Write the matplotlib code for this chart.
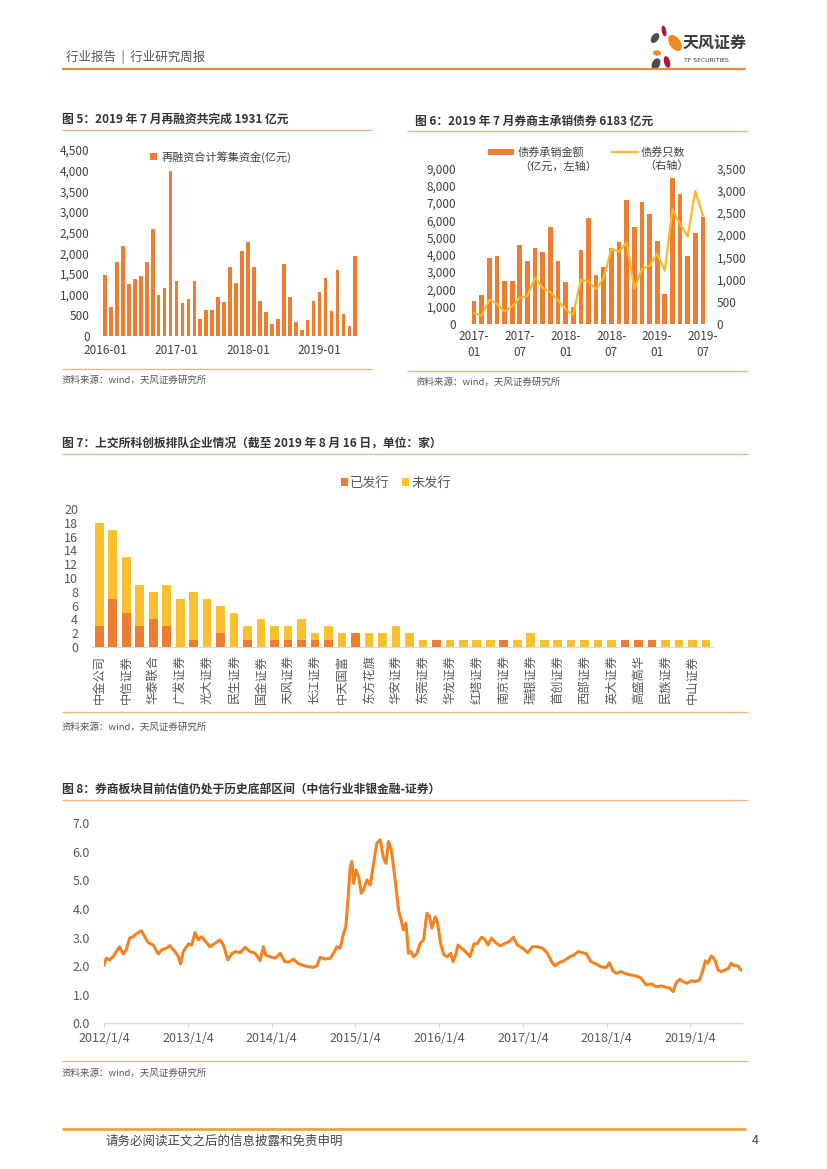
import matplotlib
matplotlib.use('Agg')
import matplotlib.pyplot as plt
from matplotlib.patches import Ellipse, Rectangle
import numpy as np
import pandas as pd

plt.rcParams['font.family'] = ['Noto Sans CJK SC', 'DejaVu Sans']

# ---------------- data ----------------
# Fig 5: monthly refinancing (亿元), 2016-01 .. 2019-07
refi_months = pd.period_range('2016-01', '2019-07', freq='M').strftime('%Y-%m').tolist()
refi_values = [1480, 700, 1790, 2180, 1260, 1380, 1460, 1800, 2590, 990, 1150, 4000,
               1320, 790, 900, 1320, 410, 630, 630, 940, 820, 1670, 1280, 2050,
               2280, 1660, 850, 590, 290, 420, 1740, 950, 340, 150, 390, 850,
               1070, 1410, 610, 1600, 530, 240, 1931]
refi_ticklabels = ['2016-01', '2017-01', '2018-01', '2019-01']

# Fig 6: bond underwriting 2017-01 .. 2019-07
bond_months = pd.period_range('2017-01', '2019-07', freq='M').strftime('%Y-%m').tolist()
bond_amount = [1330, 1660, 3840, 3940, 2500, 2480, 4580, 3650, 4400, 4150, 5590, 3650,
               2420, 955, 4290, 6160, 2810, 3290, 4380, 4720, 7150, 5630, 7080, 6340,
               4780, 1750, 8420, 7520, 3960, 5240, 6183]
bond_count = [250, 190, 545, 455, 280, 400, 590, 630, 1050, 810, 720, 530,
              325, 210, 1000, 950, 780, 1040, 1690, 1630, 1830, 795, 1235, 1310,
              1580, 1200, 2575, 2250, 1970, 2990, 2440]
bond_ticklabels = ['2017-\n01', '2017-\n07', '2018-\n01', '2018-\n07', '2019-\n01', '2019-\n07']

# Fig 7: STAR market queue by sponsor
brokers = ['中金公司', '中信建投', '中信证券', '海通证券', '华泰联合', '招商证券', '广发证券', '国泰君安',
           '光大证券', '安信证券', '民生证券', '申万宏源', '国金证券', '国信证券', '天风证券', '东兴证券',
           '长江证券', '兴业证券', '中天国富', '平安证券', '东方花旗', '国元证券', '华安证券', '中原证券',
           '东莞证券', '财通证券', '华龙证券', '九州证券', '红塔证券', '长城证券', '南京证券', '德邦证券',
           '瑞银证券', '太平洋证券', '首创证券', '五矿证券', '西部证券', '浙商证券', '英大证券', '渤海证券',
           '高盛高华', '川财证券', '民族证券', '华西证券', '中山证券', '新时代证券']
issued = [3, 7, 5, 3, 4, 3, 0, 1, 0, 2, 0, 1, 0, 1, 1, 1, 1, 1, 0, 2, 0, 0, 0, 0,
          0, 1, 0, 0, 0, 0, 1, 0, 0, 0, 0, 0, 0, 0, 0, 1, 1, 1, 0, 0, 0, 0]
unissued = [15, 10, 8, 6, 4, 6, 7, 7, 7, 4, 5, 2, 4, 2, 2, 3, 1, 2, 2, 0, 2, 2, 3, 2,
            1, 0, 1, 1, 1, 1, 0, 1, 2, 1, 1, 1, 1, 1, 1, 0, 0, 0, 1, 1, 1, 1]

# Fig 8: broker sector P/B
pb_dates = ['2012-01-04', '2012-01-14', '2012-01-29', '2012-02-12', '2012-02-26', '2012-03-12', '2012-03-27',
            '2012-04-10', '2012-04-25', '2012-05-10', '2012-05-24', '2012-06-15', '2012-06-30', '2012-07-15',
            '2012-08-06', '2012-08-28', '2012-09-11', '2012-10-03', '2012-10-17', '2012-11-08', '2012-11-23',
            '2012-12-03', '2012-12-15', '2013-01-06', '2013-01-21', '2013-02-04', '2013-02-19', '2013-03-05',
            '2013-03-20', '2013-04-10', '2013-05-02', '2013-05-24', '2013-06-08', '2013-06-27', '2013-07-14',
            '2013-07-29', '2013-08-20', '2013-09-10', '2013-10-02', '2013-10-24', '2013-11-15', '2013-11-29',
            '2013-12-09', '2013-12-28', '2014-01-20', '2014-02-11', '2014-03-02', '2014-03-19', '2014-04-10',
            '2014-05-02', '2014-05-24', '2014-06-14', '2014-07-06', '2014-07-21', '2014-08-04', '2014-08-26',
            '2014-09-17', '2014-10-01', '2014-10-16', '2014-10-30', '2014-11-14', '2014-11-24', '2014-12-03',
            '2014-12-13', '2014-12-20', '2014-12-28', '2015-01-07', '2015-01-19', '2015-01-30', '2015-02-09',
            '2015-02-24', '2015-03-10', '2015-03-25', '2015-04-08', '2015-04-23', '2015-05-07', '2015-05-18',
            '2015-05-29', '2015-06-10', '2015-06-20', '2015-06-30', '2015-07-12', '2015-07-23', '2015-08-02',
            '2015-08-13', '2015-08-24', '2015-09-05', '2015-09-15', '2015-09-30', '2015-10-14', '2015-10-29',
            '2015-11-12', '2015-11-24', '2015-12-04', '2015-12-19', '2015-12-29', '2016-01-11', '2016-01-26',
            '2016-02-09', '2016-02-24', '2016-03-05', '2016-03-17', '2016-03-27', '2016-04-11', '2016-04-29',
            '2016-05-18', '2016-06-05', '2016-06-20', '2016-07-07', '2016-07-22', '2016-08-05', '2016-08-20',
            '2016-09-08', '2016-09-27', '2016-10-14', '2016-11-05', '2016-11-24', '2016-12-11', '2017-01-03',
            '2017-01-25', '2017-02-15', '2017-03-09', '2017-03-31', '2017-04-21', '2017-05-09', '2017-05-23',
            '2017-06-11', '2017-07-03', '2017-07-25', '2017-08-15', '2017-09-02', '2017-09-21', '2017-10-08',
            '2017-10-27', '2017-11-18', '2017-12-10', '2018-01-02', '2018-01-17', '2018-01-31', '2018-02-15',
            '2018-03-08', '2018-03-30', '2018-04-21', '2018-05-13', '2018-06-04', '2018-06-26', '2018-07-18',
            '2018-08-09', '2018-08-31', '2018-09-22', '2018-10-07', '2018-10-21', '2018-11-04', '2018-11-19',
            '2018-12-03', '2018-12-21', '2019-01-09', '2019-01-26', '2019-02-14', '2019-03-01', '2019-03-11',
            '2019-03-22', '2019-04-06', '2019-04-20', '2019-05-05', '2019-05-19', '2019-06-06', '2019-06-20',
            '2019-07-02', '2019-07-17', '2019-07-31', '2019-08-09', '2019-08-16']
pb_values = [2.05, 2.28, 2.22, 2.33, 2.50, 2.68, 2.43, 2.57, 2.98, 3.03, 3.13, 3.24, 3.03, 2.82,
             2.74, 2.43, 2.57, 2.63, 2.72, 2.51, 2.33, 2.08, 2.51, 2.78, 2.74, 3.17, 2.92, 3.03,
             2.89, 2.68, 2.80, 2.92, 2.74, 2.22, 2.43, 2.51, 2.47, 2.66, 2.51, 2.45, 2.19, 2.68,
             2.39, 2.33, 2.28, 2.45, 2.16, 2.14, 2.24, 2.08, 2.02, 1.98, 1.96, 2.01, 2.31, 2.25,
             2.28, 2.45, 2.68, 2.63, 3.15, 3.38, 4.32, 5.48, 5.66, 4.90, 5.37, 5.13, 4.55, 4.67,
             5.02, 4.84, 5.60, 6.30, 6.42, 5.78, 5.60, 6.36, 6.07, 5.48, 4.78, 3.97, 3.62, 3.27,
             3.50, 2.45, 2.51, 2.33, 2.45, 2.80, 2.92, 3.85, 3.73, 3.33, 3.73, 3.50, 2.80, 2.39,
             2.33, 2.45, 2.16, 2.39, 2.74, 2.63, 2.51, 2.33, 2.78, 2.80, 3.01, 2.94, 2.74, 2.98,
             2.82, 2.71, 2.78, 2.86, 3.01, 2.74, 2.63, 2.47, 2.68, 2.68, 2.63, 2.45, 2.16, 2.01,
             2.12, 2.19, 2.31, 2.39, 2.51, 2.47, 2.43, 2.16, 2.08, 1.98, 1.95, 2.12, 1.84, 1.75,
             1.81, 1.73, 1.69, 1.66, 1.58, 1.34, 1.38, 1.28, 1.31, 1.26, 1.23, 1.11, 1.42, 1.54,
             1.46, 1.40, 1.49, 1.46, 1.52, 1.87, 2.19, 2.10, 2.36, 2.24, 1.87, 1.81, 1.87, 1.93,
             2.10, 2.01, 2.01, 1.90, 1.86]
pb_ticks = ['2012-01-04', '2013-01-04', '2014-01-04', '2015-01-04', '2016-01-04',
            '2017-01-04', '2018-01-04', '2019-01-04']

# ---------------- style ----------------
ORANGE = '#ED7D31'
YELLOW = '#FBC02D'
LINE8 = '#F58220'
RULE = '#F4B183'
DARK = '#404040'
GRAY = '#595959'

W, H = 827, 1169
fig = plt.figure(figsize=(W / 100, H / 100), dpi=100)
bg = fig.add_axes([0, 0, 1, 1])
bg.set_xlim(0, W)
bg.set_ylim(H, 0)
bg.axis('off')


def add_ax(x0, y0, x1, y1):
    return fig.add_axes([x0 / W, 1 - y1 / H, (x1 - x0) / W, (y1 - y0) / H])


def hline(y, x0, x1, color=RULE, lw=0.9):
    bg.plot([x0, x1], [y, y], color=color, lw=lw, solid_capstyle='butt')


def clean(ax):
    for s in ax.spines.values():
        s.set_visible(False)
    ax.tick_params(length=0)
    ax.patch.set_alpha(0)


# ---------------- header / footer ----------------
bg.text(66, 57, '行业报告  |  行业研究周报', fontsize=9, color='#555555', va='center', ha='left')
hline(69, 62, 746, color='#ED8B3A', lw=1.6)
petals = [((655, 38), 7, 11, 35, '#4D4D4D'), ((664, 31), 4.5, 11, -12, '#B0173A'),
          ((675, 43), 11, 18, -35, '#F08A1C'), ((657, 53), 8, 5.5, 10, '#F08A1C'),
          ((656, 64), 8, 12, 25, '#4D4D4D'), ((667, 62), 6, 12, -15, '#B0173A')]
for (cx, cy), w, h, ang, col in petals:
    bg.add_patch(Ellipse((cx, cy), w, h, angle=ang, color=col, lw=0))
bg.text(683, 43, '天风证券', fontsize=11.5, fontweight='bold', color='#3A3A3A', va='center', ha='left')
bg.text(684, 61, 'TF SECURITIES', fontsize=4.4, color='#3A3A3A', va='center', ha='left', family='DejaVu Sans')

hline(1129, 62, 746, color='#EFA33A', lw=2.0)
bg.text(105, 1141, '请务必阅读正文之后的信息披露和免责申明', fontsize=9, color='#444444', va='center', ha='left')
bg.text(752, 1141, '4', fontsize=9, color='#444444', va='center', ha='left')

# ---------------- Figure 5 ----------------
bg.text(62, 119, '图 5：2019 年 7 月再融资共完成 1931 亿元', fontsize=8.5, fontweight='bold', color='#333333',
        va='center', ha='left')
hline(130, 62, 372)
hline(369, 62, 372)
bg.text(62, 380, '资料来源：wind，天风证券研究所', fontsize=6.8, color='#555555', va='center', ha='left')

ax5 = add_ax(100.8, 150, 359.5, 336)
clean(ax5)
x5 = np.arange(len(refi_values))
ax5.bar(x5, refi_values, width=0.62, color=ORANGE, label='再融资合计筹集资金(亿元)')
ax5.set_xlim(-0.7, len(refi_values) - 0.3)
ax5.set_ylim(0, 4500)
ax5.set_yticks(np.arange(0, 4501, 500))
ax5.set_yticklabels([f'{v:,}' for v in range(0, 4501, 500)])
ax5.set_xticks([refi_months.index(m[:7]) for m in refi_ticklabels])
ax5.set_xticklabels(refi_ticklabels)
ax5.tick_params(axis='y', labelsize=8.5, labelcolor=DARK, pad=8)
ax5.tick_params(axis='x', labelsize=8.5, labelcolor=DARK, pad=6)
leg5 = ax5.legend(loc='center left', bbox_to_anchor=(150 / W, 1 - 157 / H), bbox_transform=fig.transFigure,
                  frameon=False, fontsize=8, handlelength=0.6, handleheight=0.6, handletextpad=0.4,
                  borderaxespad=0, borderpad=0)
for t in leg5.get_texts():
    t.set_color(DARK)

# ---------------- Figure 6 ----------------
bg.text(415, 121, '图 6：2019 年 7 月券商主承销债券 6183 亿元', fontsize=8.5, fontweight='bold', color='#333333',
        va='center', ha='left')
hline(131, 407, 748)
hline(371, 407, 748)
bg.text(415, 382, '资料来源：wind，天风证券研究所', fontsize=6.8, color='#555555', va='center', ha='left')

ax6 = add_ax(468.7, 168.4, 708.3, 324)
clean(ax6)
x6 = np.arange(len(bond_amount))
ax6.bar(x6, bond_amount, width=0.62, color=ORANGE)
ax6.set_xlim(-0.7, len(bond_amount) - 0.3)
ax6.set_ylim(0, 9000)
ax6.set_yticks(np.arange(0, 9001, 1000))
ax6.set_yticklabels([f'{v:,}' for v in range(0, 9001, 1000)])
ax6.set_xticks(np.arange(0, len(bond_amount), 6))
ax6.set_xticklabels(bond_ticklabels, linespacing=1.35)
ax6.tick_params(axis='y', labelsize=8.5, labelcolor=DARK, pad=9)
ax6.tick_params(axis='x', labelsize=8.5, labelcolor=DARK, pad=4)
ax6r = ax6.twinx()
clean(ax6r)
ax6r.plot(x6, bond_count, color='#FBB829', lw=1.6)
ax6r.set_ylim(0, 3500)
ax6r.set_yticks(np.arange(0, 3501, 500))
ax6r.set_yticklabels([f'{v:,}' for v in range(0, 3501, 500)])
ax6r.tick_params(axis='y', labelsize=8.5, labelcolor=DARK, pad=6)
bg.add_patch(Rectangle((488, 149), 26, 6, color=ORANGE, lw=0))
bg.text(518, 152, '债券承销金额', fontsize=8, color=DARK, va='center', ha='left')
bg.text(519, 166, '（亿元，左轴）', fontsize=8, color=DARK, va='center', ha='left')
bg.plot([612, 638], [152, 152], color='#FBB829', lw=1.6)
bg.text(641, 152, '债券只数', fontsize=8, color=DARK, va='center', ha='left')
bg.text(644, 166, '（右轴）', fontsize=8, color=DARK, va='center', ha='left')

# ---------------- Figure 7 ----------------
bg.text(62, 443, '图 7：上交所科创板排队企业情况（截至 2019 年 8 月 16 日，单位：家）', fontsize=8.5,
        fontweight='bold', color='#333333', va='center', ha='left')
hline(454, 62, 748)
hline(712, 62, 748)
bg.text(62, 727, '资料来源：wind，天风证券研究所', fontsize=6.8, color='#555555', va='center', ha='left')

ax7 = add_ax(91.9, 509, 713.4, 647)
clean(ax7)
x7 = np.arange(len(brokers))
ax7.bar(x7, issued, width=0.64, color=ORANGE, label='已发行')
ax7.bar(x7, unissued, width=0.64, bottom=issued, color=YELLOW, label='未发行')
ax7.set_xlim(-0.55, len(brokers) - 0.45)
ax7.set_ylim(0, 20)
ax7.set_yticks(np.arange(0, 21, 2))
ax7.spines['bottom'].set_visible(True)
ax7.spines['bottom'].set_color('#D9D9D9')
ax7.set_xticks(x7[::2])
ax7.set_xticklabels(brokers[::2], rotation=90, ha='center', va='top')
ax7.tick_params(axis='y', labelsize=9, labelcolor=GRAY, pad=10)
ax7.tick_params(axis='x', labelsize=8.8, labelcolor=GRAY, pad=6)
leg7 = ax7.legend(loc='center', bbox_to_anchor=(396 / W, 1 - 483 / H), bbox_transform=fig.transFigure,
                  ncol=2, frameon=False, fontsize=9.5, handlelength=0.55, handleheight=0.55,
                  handletextpad=0.15, columnspacing=0.9, borderaxespad=0, borderpad=0)
for t in leg7.get_texts():
    t.set_color(GRAY)

# ---------------- Figure 8 ----------------
bg.text(62, 789, '图 8：券商板块目前估值仍处于历史底部区间（中信行业非银金融-证券）', fontsize=8.5,
        fontweight='bold', color='#333333', va='center', ha='left')
hline(800, 62, 748)
hline(1061, 62, 748)
bg.text(62, 1073, '资料来源：wind，天风证券研究所', fontsize=6.8, color='#555555', va='center', ha='left')

ax8 = add_ax(104, 823.3, 741.6, 1023.3)
clean(ax8)
d8 = pd.to_datetime(pb_dates)
ax8.plot(d8, pb_values, color=LINE8, lw=2.2)
ax8.set_xlim(pd.Timestamp('2012-01-04'), pd.Timestamp('2019-08-16'))
ax8.set_ylim(0, 7)
ax8.set_yticks(np.arange(0, 7.01, 1.0))
ax8.set_yticklabels([f'{v:.1f}' for v in np.arange(0, 7.01, 1.0)])
tk = pd.to_datetime(pb_ticks)
ax8.set_xticks(tk)
ax8.set_xticklabels([f'{t.year}/{t.month}/{t.day}' for t in tk])
ax8.spines['bottom'].set_visible(True)
ax8.spines['bottom'].set_color('#D9D9D9')
ax8.spines['bottom'].set_linewidth(1.0)
ax8.tick_params(axis='x', length=3, color='#D9D9D9', labelsize=9, labelcolor=GRAY, pad=3)
ax8.tick_params(axis='y', labelsize=9, labelcolor=GRAY, pad=10)

fig.savefig('out.png', dpi=100)
